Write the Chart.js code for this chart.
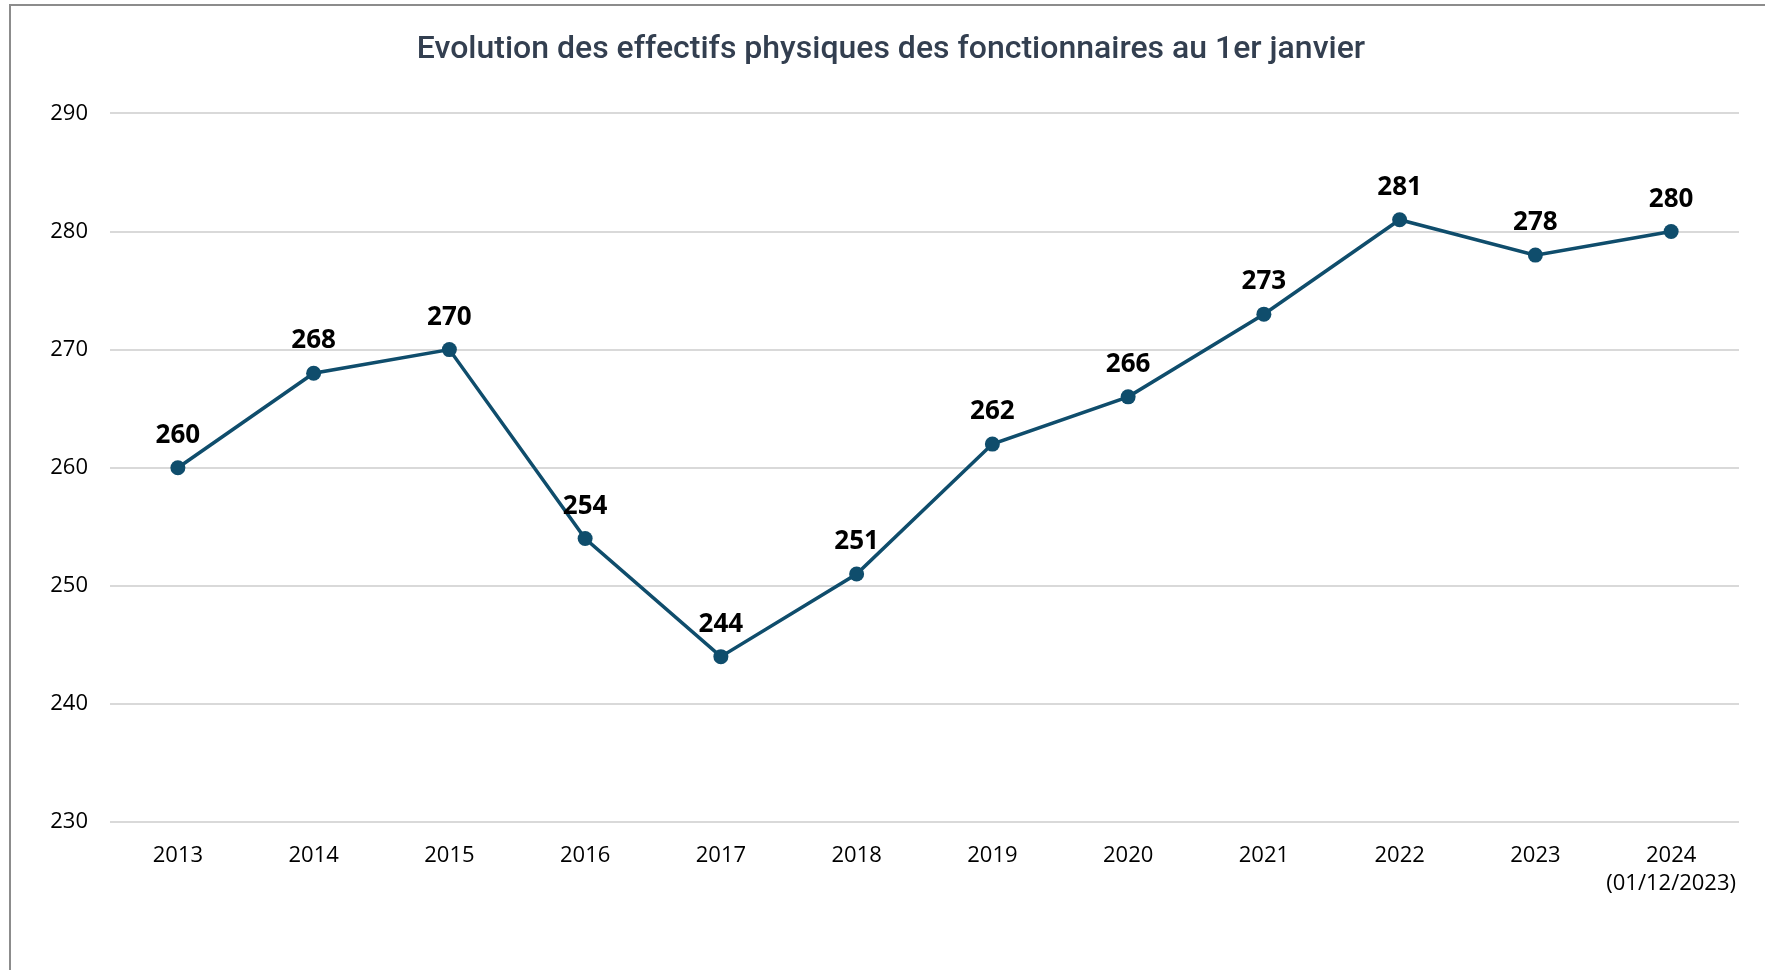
<!DOCTYPE html>
<html>
<head>
<meta charset="utf-8">
<script src="https://cdn.jsdelivr.net/npm/chart.js@4"></script>
<style>
  html, body { margin: 0; padding: 0; background: #fff; overflow: hidden; }
  #wrap { position: relative; width: 1765px; height: 970px; }
  #frame { position: absolute; left: 9px; top: 4px; width: 1800px; height: 1000px;
           border-left: 2px solid #8c8c8c; border-top: 2px solid #8c8c8c; }
  canvas { position: absolute; left: 0; top: 0; }
</style>
</head>
<body>
<div id="wrap">
  <div id="frame"></div>
  <canvas id="c" width="1765" height="970"></canvas>
</div>
<script>
// ===== DATA =====
const years = ["2013", "2014", "2015", "2016", "2017", "2018", "2019", "2020", "2021", "2022", "2023", ["2024", "(01/12/2023)"]];
const effectifs = [260, 268, 270, 254, 244, 251, 262, 266, 273, 281, 278, 280];
const yTicks = [230, 240, 250, 260, 270, 280, 290];

const TITLE = "Evolution des effectifs physiques des fonctionnaires au 1er janvier";
const LINE = "#0f4d6c";

// value labels above each point
const valueLabels = {
  id: "valueLabels",
  afterDatasetsDraw(chart) {
    const ctx = chart.ctx;
    const meta = chart.getDatasetMeta(0);
    ctx.save();
    ctx.font = "bold 26px 'Open Sans'";
    ctx.fillStyle = "#000";
    ctx.textAlign = "center";
    ctx.textBaseline = "alphabetic";
    meta.data.forEach((pt, i) => {
      ctx.fillText(String(effectifs[i]), pt.x, pt.y - 25);
    });
    ctx.restore();
  }
};

new Chart(document.getElementById("c").getContext("2d"), {
  type: "line",
  data: {
    labels: years,
    datasets: [{
      data: effectifs,
      borderColor: LINE,
      backgroundColor: LINE,
      borderWidth: 3.5,
      pointRadius: 7.5,
      pointBorderWidth: 0,
      tension: 0
    }]
  },
  options: {
    responsive: false,
    animation: false,
    layout: { padding: { left: 43, right: 26, top: 0, bottom: 0 } },
    plugins: {
      legend: { display: false },
      tooltip: { enabled: false },
      title: {
        display: true,
        text: TITLE,
        color: "#333f50",
        font: { family: "Roboto", size: 32, weight: "500", lineHeight: 1.2 },
        padding: { top: 31, bottom: 44 }
      }
    },
    scales: {
      x: {
        offset: true,
        grid: { display: false },
        border: { display: false },
        ticks: {
          color: "#000",
          font: { family: "'Open Sans'", size: 22, lineHeight: 1.3 },
          padding: 11,
          maxRotation: 0,
          autoSkip: false
        },
        afterFit: (s) => { s.height = 148; }
      },
      y: {
        min: yTicks[0],
        max: yTicks[yTicks.length - 1],
        afterBuildTicks: (s) => { s.ticks = yTicks.map(v => ({ value: v })); },
        grid: { color: "#d9d9d9", lineWidth: 2, drawTicks: false },
        border: { display: false },
        ticks: {
          color: "#000",
          font: { family: "'Open Sans'", size: 22 },
          padding: 22
        },
        afterFit: (s) => { s.width = 67; }
      }
    }
  },
  plugins: [valueLabels]
});
</script>
</body>
</html>
